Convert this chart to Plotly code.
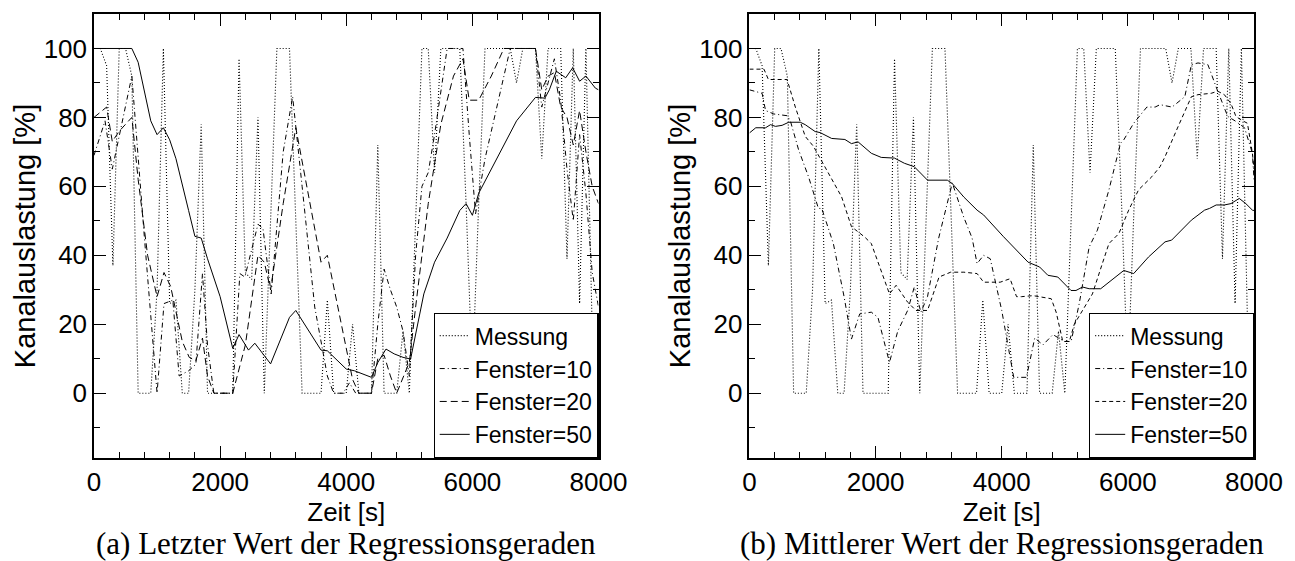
import plotly.graph_objects as go

# ---------------- data ----------------
t_mess = list(range(0, 8001, 100))
messung = [100, 100, 95, 37, 100, 100, 92, 0, 0, 0,
           30, 100, 26, 27, 0, 0, 30, 78, 0, 0,
           0, 0, 0, 97, 35, 33, 80, 0, 50, 100,
           100, 100, 50, 0, 0, 0, 0, 27, 0, 0,
           0, 20, 0, 0, 0, 72, 0, 0, 0, 18,
           0, 50, 100, 100, 64, 100, 100, 100, 100, 55,
           5, 55, 100, 100, 100, 100, 100, 90, 100, 100,
           100, 68, 100, 100, 100, 39, 100, 26, 100, 18, 20]

# (a) Letzter Wert der Regressionsgeraden
a_f10_t = [0, 175, 290, 600, 800, 1000, 1110, 1250, 1350, 1500, 1615, 1720, 1800, 1900, 2200,
           2313, 2392, 2600, 2679, 2809, 3000, 3150, 3300, 3500, 3700, 3800, 3950, 4050, 4150,
           4400, 4500, 4600, 4700, 4800, 4900, 5000, 5100, 5200, 5300, 5400, 5600, 5850, 5950,
           6050, 6200, 6400, 6500, 6600, 7000, 7100, 7200, 7300, 7400, 7500, 7600, 7700, 7800,
           7900, 8000]
a_f10 = [69, 79, 65, 92, 45, 0, 26, 27, 5, 6.5, 8.4, 34.7, 14, 0, 0,
         34.7, 33.7, 49, 47.8, 28.8, 70, 86, 60, 25, 5, 0, 0, 3, 0,
         0, 20, 36, 30, 25, 18, 5, 40, 60, 64, 75, 100, 100, 75,
         52, 68, 84, 92, 100, 100, 83, 90, 97, 85, 65, 50, 75, 58,
         35, 25]

a_f20_t = [0, 200, 290, 400, 600, 700, 850, 1000, 1110, 1215, 1400, 1510, 1615, 1720, 1800,
           1900, 2200, 2400, 2600, 2700, 2800, 3000, 3200, 3400, 3600, 3700, 4000, 4100, 4200,
           4400, 4500, 4600, 4700, 4800, 5000, 5100, 5300, 5500, 5700, 5850, 5950, 6100, 6300,
           6500, 7000, 7100, 7200, 7300, 7400, 7500, 7600, 7700, 7800, 7900, 8000]
a_f20 = [80, 83, 73, 76, 80, 62, 40, 28, 35, 31, 15, 10.4, 9.4, 16, 5,
         0, 0, 14, 40, 38, 30, 55, 77, 58, 38, 40, 13, 4, 0,
         0, 10, 11, 5, 0, 9, 25, 55, 78, 92, 97, 85, 85, 92,
         100, 100, 88, 92, 93, 83, 80, 72, 82, 70, 60, 55]

a_f50_t = [0, 600, 700, 900, 1000, 1100, 1200, 1300, 1500, 1600, 1700, 1800, 2000, 2200, 2300,
           2450, 2550, 2800, 3100, 3200, 3600, 3700, 4000, 4130, 4400, 4500, 4630, 4760, 4900,
           5020, 5230, 5400, 5600, 5800, 5900, 6000, 6100, 6300, 6500, 6700, 7000, 7150, 7220,
           7330, 7480, 7590, 7700, 7800, 7950, 8000]
a_f50 = [100, 100, 96, 79, 75, 77, 73.5, 68, 53, 45.5, 45, 39, 28, 13, 17,
         12.5, 14.5, 8.5, 22, 24, 12.5, 12.3, 7, 6.5, 4.6, 8.9, 12.8, 11.4, 10.4,
         9.9, 28.8, 38, 45, 53, 55, 51.6, 58, 65, 72, 79, 85.8, 85.6, 88,
         93.4, 91.5, 94.4, 90.5, 92, 88.5, 88]

# (b) Mittlerer Wert der Regressionsgeraden
b_f10_t = [0, 200, 255, 386, 596, 648, 779, 936, 1093, 1146, 1330, 1500, 1617, 1748, 1932,
           2037, 2220, 2351, 2508, 2613, 2718, 2823, 3000, 3216, 3399, 3530, 3609, 3713, 3818,
           4000, 4190, 4392, 4523, 4654, 4811, 4994, 5100, 5229, 5386, 5517, 5700, 5883, 5935,
           6092, 6301, 6432, 6510, 6700, 6903, 7007, 7112, 7269, 7425, 7583, 7700, 7850, 7975,
           8000]
b_f10 = [88, 87, 82, 81, 80.5, 79, 70.6, 62.8, 53.6, 53.6, 43.4, 28, 15.7, 23, 23.5,
         22, 8.9, 18, 24, 30.8, 23.5, 28, 45, 61, 51, 45, 37.6, 40, 39,
         24, 4.6, 4.6, 16, 14, 17, 15, 15, 26, 42.4, 47.3, 59, 72.5, 73.5,
         78.3, 83, 83, 83.7, 83, 86, 95.3, 95.8, 95.3, 87.6, 80.3, 79, 77, 69.6,
         62]

b_f20_t = [0, 230, 300, 596, 727, 884, 1015, 1198, 1460, 1617, 1827, 1932, 2089, 2220, 2325,
           2508, 2640, 2823, 3006, 3190, 3399, 3609, 3713, 3975, 4132, 4235, 4314, 4497, 4785,
           4863, 4968, 5072, 5150, 5281, 5438, 5595, 5700, 5857, 6013, 6170, 6380, 6510, 6589,
           6798, 7007, 7112, 7321, 7425, 7530, 7635, 7713, 7792, 7896, 7975, 8000]
b_f20 = [94, 94, 91, 91, 83, 74.5, 71.6, 65.7, 57, 48.3, 45.3, 43.4, 35.6, 28.8, 31.3,
         26.4, 24, 24, 33.7, 35.1, 35.1, 34.7, 32.2, 32.2, 33.2, 28, 28, 28.3, 27.4,
         23.5, 15, 15, 20, 24, 28.8, 37.6, 43.4, 46.3, 53.1, 59, 62.8, 65.7, 68.6,
         77.4, 86, 86.6, 87, 87.6, 86.6, 84, 80.3, 79.3, 78.3, 69.6, 65]

b_f50_t = [0, 100, 255, 334, 412, 517, 622, 805, 884, 1041, 1120, 1303, 1513, 1617, 1722,
           1932, 2089, 2299, 2456, 2613, 2823, 3137, 3216, 3399, 3609, 3713, 4028, 4342, 4418,
           4601, 4732, 4889, 5098, 5177, 5281, 5386, 5569, 5935, 6092, 6327, 6589, 6694, 7007,
           7216, 7295, 7400, 7530, 7635, 7766, 7870, 7975, 8000]
b_f50 = [75.5, 77, 77, 77.9, 77.4, 77.7, 78.6, 78.6, 77.9, 75.9, 75.6, 73.9, 73.6, 72.4, 72.9,
         69.6, 68.4, 68.2, 66.7, 65.7, 61.8, 61.8, 60.8, 56.9, 53.1, 51.7, 45.4, 39.5, 38,
         36.6, 34.2, 33.7, 29.8, 29.8, 30.8, 30.3, 30.3, 35.6, 34.7, 39.5, 43.9, 44.4, 50.2,
         53.1, 53.6, 54.6, 54.6, 55, 56.5, 55, 53.1, 53]

names = ["Messung", "Fenster=10", "Fenster=20", "Fenster=50"]
x_ticks = [0, 2000, 4000, 6000, 8000]
y_ticks = [0, 20, 40, 60, 80, 100]
captions = ["(a) Letzter Wert der Regressionsgeraden", "(b) Mittlerer Wert der Regressionsgeraden"]

# ---------------- figure ----------------
SANS = "Liberation Sans, Arial, sans-serif"
SERIF = "Liberation Serif, Times New Roman, serif"

fig = go.Figure()

styles_a = [dict(color="black", width=1.1, dash="1px,2px"),
            dict(color="black", width=1, dash="5px,3px,1px,3px"),
            dict(color="black", width=1, dash="7px,4px"),
            dict(color="black", width=1)]
styles_b = [dict(color="black", width=1.1, dash="1px,2px"),
            dict(color="black", width=1, dash="5px,3px,1px,3px"),
            dict(color="black", width=1, dash="4px,3px"),
            dict(color="black", width=1)]

series_a = [(t_mess, messung), (a_f10_t, a_f10), (a_f20_t, a_f20), (a_f50_t, a_f50)]
series_b = [(t_mess, messung), (b_f10_t, b_f10), (b_f20_t, b_f20), (b_f50_t, b_f50)]

for (xs, ys), nm, st in zip(series_a, names, styles_a):
    fig.add_trace(go.Scatter(x=xs, y=ys, mode="lines", name=nm, line=st,
                             xaxis="x", yaxis="y", legend="legend"))
for (xs, ys), nm, st in zip(series_b, names, styles_b):
    fig.add_trace(go.Scatter(x=xs, y=ys, mode="lines", name=nm, line=st,
                             xaxis="x2", yaxis="y2", legend="legend2"))

W, H = 1295, 561
ML, MR, MT, MB = 94, 33, 14, 103
PW = W - ML - MR
dom_a = [0, 508 / PW]
dom_b = [(754 - ML) / PW, 1]

def xax(domain, anchor):
    return dict(domain=domain, anchor=anchor, range=[0, 8000], tickmode="array", tickvals=x_ticks,
                ticks="inside", ticklen=12, tickwidth=1, tickcolor="black",
                minor=dict(tick0=0, dtick=400, ticks="inside", ticklen=6, tickwidth=1, tickcolor="black"),
                showline=True, linecolor="black", linewidth=1.5, mirror="allticks",
                showgrid=False, zeroline=False,
                tickfont=dict(family=SANS, size=26, color="black"),
                title=dict(text="Zeit [s]", font=dict(family=SANS, size=26, color="black"), standoff=0))

def yax(domain, anchor):
    return dict(domain=domain, anchor=anchor, range=[-18.8, 110], tickmode="array", tickvals=y_ticks,
                ticks="inside", ticklen=12, tickwidth=1, tickcolor="black",
                minor=dict(tick0=0, dtick=10, ticks="inside", ticklen=6, tickwidth=1, tickcolor="black"),
                showline=True, linecolor="black", linewidth=1.5, mirror="allticks",
                showgrid=False, zeroline=False,
                tickfont=dict(family=SANS, size=26, color="black"),
                title=dict(text="Kanalauslastung [%]", font=dict(family=SANS, size=29, color="black"), standoff=0))

leg_common = dict(bgcolor="white", bordercolor="black", borderwidth=1.2,
                  font=dict(family=SANS, size=23, color="black"),
                  yanchor="bottom", y=0, xanchor="right", tracegroupgap=0, itemwidth=30)

fig.update_layout(
    width=W, height=H,
    margin=dict(l=ML, r=MR, t=MT, b=MB),
    paper_bgcolor="white", plot_bgcolor="white",
    xaxis=xax(dom_a, "y"), yaxis=yax([0, 1], "x"),
    xaxis2=xax(dom_b, "y2"), yaxis2=yax([0, 1], "x2"),
    legend=dict(x=dom_a[1], **leg_common),
    legend2=dict(x=dom_b[1], **leg_common),
    showlegend=True,
)

for cap, dom in zip(captions, [dom_a, dom_b]):
    fig.add_annotation(text=cap, xref="paper", yref="paper",
                       x=(dom[0] + dom[1]) / 2, y=-(543 - 458) / (H - MT - MB),
                       xanchor="center", yanchor="middle", showarrow=False,
                       font=dict(family=SERIF, size=31, color="black"))

fig.write_html("out.html")
